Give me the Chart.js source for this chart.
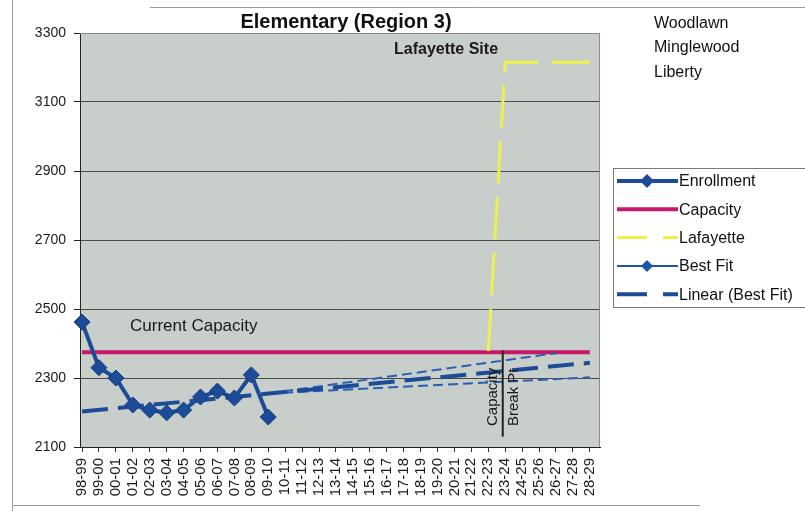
<!DOCTYPE html>
<html>
<head>
<meta charset="utf-8">
<script src="https://cdn.jsdelivr.net/npm/chart.js@4/dist/chart.umd.min.js"></script>
<style>
  html, body { margin: 0; padding: 0; background: #fff; }
  #wrap { width: 805px; height: 511px; position: relative; }
</style>
</head>
<body>
<div id="wrap"><canvas id="chart" width="805" height="511"></canvas></div>
<script>
const seasons = ['98-99','99-00','00-01','01-02','02-03','03-04','04-05','05-06','06-07','07-08',
  '08-09','09-10','10-11','11-12','12-13','13-14','14-15','15-16','16-17','17-18',
  '18-19','19-20','20-21','21-22','22-23','23-24','24-25','25-26','26-27','27-28','28-29'];

const enrollment = [2462, 2330, 2300, 2222, 2207, 2199, 2207, 2245, 2262, 2242, 2309, 2187];
// straight lines: only the end points are given, the gaps are spanned
const capacity = [2375, null, null, null, null, null, null, null, null, null, null, null, null, null, null,
  null, null, null, null, null, null, null, null, null, null, null, null, null, null, null, 2375];
const lafayette = [null, null, null, null, null, null, null, null, null, null, null, null, null, null, null,
  null, null, null, null, null, null, null, null, null, 2378, 3215, null, null, null, null, 3215];
const bestFit = [null, null, null, null, null, null, null, null, null, null, null, 2255, null, null, null,
  null, null, null, null, null, null, null, null, null, null, null, null, null, null, null, 2302];
const upperFit = [null, null, null, null, null, null, null, null, null, null, null, 2255, null, null, null,
  null, null, null, null, null, null, null, null, null, null, null, null, null, 2372];
const linearFit = [2203, null, null, null, null, null, null, null, null, null, null, null, null, null, null,
  null, null, null, null, null, null, null, null, null, null, null, null, null, null, null, 2344];

const yTicks = [2100, 2300, 2500, 2700, 2900, 3100, 3300];

const navy = '#1c4c98';
const pts = arr => arr.map((v, i) => ({ x: i, y: v })).filter(p => p.y !== null && p.y !== undefined);

const legendItems = [
  { text: 'Enrollment', color: navy, width: 4, dash: [], marker: 7 },
  { text: 'Capacity', color: '#c8186a', width: 4, dash: [], marker: 0 },
  { text: 'Lafayette', color: '#eef04c', width: 3, dash: [30, 16], marker: 0 },
  { text: 'Best Fit', color: '#1f55a8', width: 2, dash: [], marker: 6 },
  { text: 'Linear (Best Fit)', color: navy, width: 4, dash: [30, 16], marker: 0 }
];

const decor = {
  id: 'decor',
  beforeDraw(chart) {
    const { ctx, chartArea: a } = chart;
    ctx.save();
    ctx.fillStyle = '#c8cec9';
    ctx.fillRect(a.left, a.top, a.right - a.left, a.bottom - a.top);
    ctx.restore();
  },
  afterDraw(chart) {
    const { ctx, chartArea: a } = chart;
    const xs = chart.scales.x, ys = chart.scales.y;
    ctx.save();
    // plot border
    ctx.strokeStyle = '#8a8a8a';
    ctx.lineWidth = 1;
    ctx.beginPath();
    ctx.moveTo(a.left, a.top + 0.5); ctx.lineTo(a.right - 0.5, a.top + 0.5); ctx.lineTo(a.right - 0.5, a.bottom);
    ctx.stroke();

    // scan frame lines
    ctx.strokeStyle = '#9a9a9a';
    ctx.beginPath();
    ctx.moveTo(150, 7.5); ctx.lineTo(805, 7.5);
    ctx.moveTo(12.5, 0); ctx.lineTo(12.5, 511);
    ctx.moveTo(12, 505.5); ctx.lineTo(700, 505.5);
    ctx.stroke();

    // title
    ctx.fillStyle = '#111';
    ctx.font = 'bold 20px "Liberation Sans", Arial, sans-serif';
    ctx.textAlign = 'center';
    ctx.textBaseline = 'alphabetic';
    ctx.fillText('Elementary (Region 3)', 346, 28);

    // schools list
    ctx.textAlign = 'left';
    ctx.font = '16px "Liberation Sans", Arial, sans-serif';
    ctx.fillText('Woodlawn', 654, 28);
    ctx.fillText('Minglewood', 654, 52);
    ctx.fillText('Liberty', 654, 77);

    // annotations
    ctx.font = '17px "Liberation Sans", Arial, sans-serif';
    ctx.fillStyle = '#1a1a1a';
    ctx.fillText('Current Capacity', 130, 331);
    ctx.font = 'bold 16px "Liberation Sans", Arial, sans-serif';
    ctx.fillText('Lafayette Site', 394, 54);

    // capacity break point marker
    const bx = (xs.getPixelForValue(24) + xs.getPixelForValue(25)) / 2 + 6;
    ctx.strokeStyle = '#222';
    ctx.lineWidth = 2;
    ctx.beginPath();
    ctx.moveTo(bx, ys.getPixelForValue(2380)); ctx.lineTo(bx, ys.getPixelForValue(2130));
    ctx.stroke();
    ctx.save();
    ctx.translate(bx, 0);
    ctx.rotate(-Math.PI / 2);
    ctx.font = '15px "Liberation Sans", Arial, sans-serif';
    ctx.fillStyle = '#1a1a1a';
    ctx.textBaseline = 'middle';
    ctx.fillText('Capacity', -426, -10);
    ctx.fillText('Break Pt', -426, 11);
    ctx.restore();

    // legend box
    ctx.fillStyle = '#fff';
    ctx.fillRect(613, 168, 192, 139);
    ctx.strokeStyle = '#7a7a7a';
    ctx.lineWidth = 1;
    ctx.strokeRect(613.5, 168.5, 195, 139);
    legendItems.forEach((it, i) => {
      const y = 181 + i * 28.3;
      ctx.strokeStyle = it.color;
      ctx.lineWidth = it.width;
      ctx.setLineDash(it.dash);
      ctx.beginPath();
      ctx.moveTo(617, y); ctx.lineTo(678, y);
      ctx.stroke();
      ctx.setLineDash([]);
      if (it.marker) {
        ctx.fillStyle = it.color;
        ctx.beginPath();
        ctx.moveTo(647, y - it.marker); ctx.lineTo(647 + it.marker, y);
        ctx.lineTo(647, y + it.marker); ctx.lineTo(647 - it.marker, y);
        ctx.closePath();
        ctx.fill();
      }
      ctx.fillStyle = '#111';
      ctx.font = '16px "Liberation Sans", Arial, sans-serif';
      ctx.textBaseline = 'middle';
      ctx.fillText(it.text, 679, y + 1);
    });
    ctx.restore();
  }
};

const tickFont = { family: '"Liberation Sans", Arial, sans-serif', size: 14 };

new Chart(document.getElementById('chart'), {
  type: 'line',
  data: {
    datasets: [
      {
        label: 'Enrollment', data: pts(enrollment), borderColor: navy, backgroundColor: navy,
        borderWidth: 4, pointStyle: 'rectRot', pointRadius: 8, pointBorderWidth: 1,
        pointBorderColor: '#123a7a', order: 1, clip: false
      },
      {
        label: 'Capacity', data: pts(capacity), borderColor: '#c8186a', borderWidth: 4,
        pointRadius: 0, spanGaps: true, order: 5
      },
      {
        label: 'Lafayette', data: pts(lafayette), borderColor: '#eef04c', borderWidth: 3,
        borderDash: [42, 14], pointRadius: 0, spanGaps: true, order: 4
      },
      {
        label: 'Best Fit', data: pts(bestFit), borderColor: '#2a5fb4', borderWidth: 2,
        borderDash: [10, 5], pointRadius: 0, spanGaps: true, order: 3
      },
      {
        label: 'Upper', data: pts(upperFit), borderColor: '#2a5fb4', borderWidth: 2,
        borderDash: [10, 5], pointRadius: 0, spanGaps: true, order: 3
      },
      {
        label: 'Linear (Best Fit)', data: pts(linearFit), borderColor: navy, borderWidth: 4,
        borderDash: [26, 10], pointRadius: 0, spanGaps: true, order: 2
      }
    ]
  },
  options: {
    responsive: false,
    animation: false,
    layout: { padding: { top: 33, right: 205, left: 0, bottom: 0 } },
    elements: { line: { tension: 0 } },
    plugins: { legend: { display: false }, title: { display: false }, tooltip: { enabled: false } },
    scales: {
      x: {
        type: 'linear',
        min: -0.12,
        max: 30.6,
        afterBuildTicks: s => { s.ticks = seasons.map((_, i) => ({ value: i })); },
        afterFit: s => { s.height = 64; },
        grid: { drawOnChartArea: false, drawTicks: true, tickLength: 5, color: '#333' },
        border: { color: '#222', width: 1 },
        ticks: {
          autoSkip: false, minRotation: 90, maxRotation: 90, padding: 6,
          color: '#1a1a1a', font: { family: tickFont.family, size: 15 },
          callback: v => seasons[v]
        }
      },
      y: {
        min: 2100,
        max: 3300,
        afterBuildTicks: s => { s.ticks = yTicks.map(v => ({ value: v })); },
        afterFit: s => { s.width = 80; },
        grid: { color: '#4a4a4a', lineWidth: 1, tickLength: 6, tickColor: '#222' },
        border: { color: '#222', width: 1 },
        ticks: { color: '#1a1a1a', font: tickFont, padding: 8, callback: v => String(v) }
      }
    }
  },
  plugins: [decor]
});
</script>
</body>
</html>
